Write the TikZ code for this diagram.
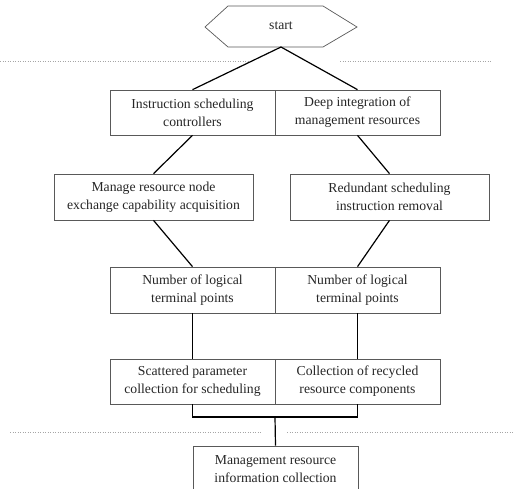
\documentclass[tikz,border=0pt]{standalone}
\usepackage{fontspec}
\setmainfont{Liberation Serif}
\begin{document}
\begin{tikzpicture}[x=1pt,y=-1pt,
  box/.style={draw=black!65,line width=0.7pt,minimum width=165pt,minimum height=45pt,inner sep=0pt,align=center,font=\fontsize{13.7}{18}\selectfont,text=black!85},
  wbox/.style={box,minimum width=199pt},
  conn/.style={draw=black,line width=1.2pt},
  guide/.style={draw=black!35,dotted,line width=0.5pt}]
\useasboundingbox (0,0) rectangle (513,488);
\begin{scope}
\clip (0,0) rectangle (513,488);
% guide lines
\draw[guide] (0,61) -- (250,61);
\draw[guide] (340,61) -- (492,61);
\draw[guide] (10,432) -- (262,432);
\draw[guide] (287,432) -- (513,432);
% hexagon
\draw[draw=black!65,line width=0.7pt] (205,27) -- (228,6) -- (323,6) -- (357,27) -- (323,47) -- (228,47) -- cycle;
\node[font=\fontsize{13.7}{18}\selectfont,text=black!85] (start) at (281,26) {start};
\coordinate (hb) at (281,47);
% row 1
\node[box] (r1a) at (192.5,112.5) {Instruction scheduling\\controllers};
\node[box] (r1b) at (357.5,112.5) {Deep integration of\\management resources};
% row 2
\node[wbox,minimum height=46pt] (r2a) at (153.5,197) {Manage resource node\\exchange capability acquisition};
\node[wbox,minimum height=46pt] (r2b) at (389.5,197) {Redundant scheduling\\instruction removal};
% row 3
\node[box,minimum height=46pt] (r3a) at (192.5,290) {Number of logical\\terminal points};
\node[box,minimum height=46pt] (r3b) at (357.5,290) {Number of logical\\terminal points};
% row 4
\node[box] (r4a) at (192.5,381.5) {Scattered parameter\\collection for scheduling};
\node[box] (r4b) at (357.5,381.5) {Collection of recycled\\resource components};
% bottom
\node[box,minimum height=46pt] (r5) at (275.5,469) {Management resource\\information collection};
% connectors
\draw[conn] (hb) -- (r1a.north);
\draw[conn] (hb) -- (r1b.north);
\draw[conn] (r1a.south) -- (r2a.north);
\draw[conn] (r1b.south) -- (r2b.north);
\draw[conn] (r2a.south) -- (r3a.north);
\draw[conn] (r2b.south) -- (r3b.north);
\draw[conn] (r3a.south) -- (r4a.north);
\draw[conn] (r3b.south) -- (r4b.north);
\coordinate (mid) at (275,417);
\draw[conn] (r4a.south) -- (r4a.south |- mid) -- (r4b.south |- mid) -- (r4b.south);
\draw[conn] (mid) -- (r5.north);
\end{scope}
\end{tikzpicture}
\end{document}
